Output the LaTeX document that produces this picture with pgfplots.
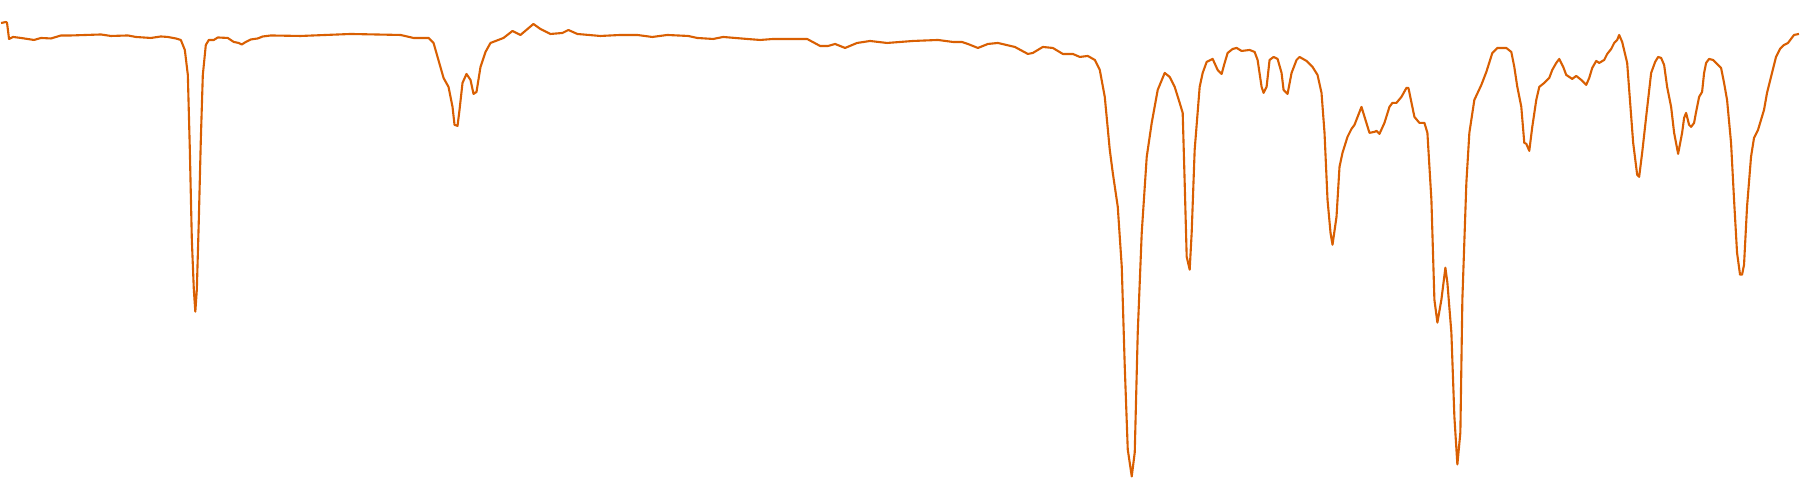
\documentclass[border=0pt]{standalone}
\usepackage{pgfplots}
\pgfplotsset{compat=1.18}
\definecolor{lineorange}{HTML}{D95F02}
\begin{document}
\begin{tikzpicture}
\begin{axis}[
  width=18cm, height=5cm, scale only axis,
  xmin=0, xmax=1800, ymin=0, ymax=500, y dir=reverse,
  hide axis, clip=false,
]
\path (rel axis cs:0,0) rectangle (rel axis cs:1,1);
\addplot[color=lineorange, line width=0.6pt, line join=round, mark=none] coordinates {
(0,23)(5,22)(6,23)(8,39)(12,37)(20,38)(33,40)(40,38)(50,38.5)(60,35.5)(70,35.5)(85,35)(100,34.5)(110,36)(127,35.5)(135,37)(150,38)(160,36.5)(167,37)(175,38.5)(180,40)(184,50)(187,75)(189,150)(191,240)(193,290)(194.5,312)(196,290)(198,220)(200,140)(202,75)(205,45)(208,40)(213,40)(217,37.5)(227,38)(233,42)(238,43)(241,44.5)(245,42)(250,39.5)(257,38.5)(262,36.5)(270,35.5)(300,36)
(350,34)(400,35)(413,38)(428,38)(433,43)(443,78)(448,87)(452,107)(454,125)(457,126)(459,110)(462,83)(466,74)(470,80)(473,94)(476,92)(480,67)(485,52)(490,43)(503,38)(512,31)(520,35)(533,24)(540,29)(550,34)(562,33)(568,30)(577,34)(600,36)
(620,35)(637,35)(652,37)(667,35)(688,36)(697,38)(713,39)(723,37)(747,39)(760,40)(773,39)(803,39)(807,39)(820,46)(828,46)(835,44)(845,48)(857,43)(870,41)(887,43)(900,42)
(913,41)(938,40)(953,42)(962,42)(968,44)(978,48)(988,44)(998,43)(1015,47)(1028,54)(1033,53)(1043,47)(1053,48)(1063,54)(1073,54)(1080,57)(1088,56)(1095,60)(1100,70)(1105,97)(1110,150)(1113,173)(1118,207)(1122,267)(1125,367)(1128,450)(1132,477)(1135,453)(1138,333)(1142,233)(1147,157)(1152,123)(1158,90)(1165,73)(1170,77)(1175,87)(1180,103)(1183,113)(1185,183)(1187,257)(1190,270)(1192,233)(1195,150)(1200,87)
(1203,73)(1207,62)(1213,59)(1218,70)(1222,74)(1225,63)(1228,53)(1233,49)(1237,48)(1242,51)(1250,50)(1255,52)(1258,60)(1262,87)(1264,93)(1267,87)(1270,60)(1274,57)(1278,59)(1282,73)(1284,90)(1288,94)(1292,73)(1297,60)(1300,57)(1307,61)(1313,67)(1318,75)(1322,93)(1325,133)(1328,200)(1331,233)(1333,245)(1337,217)(1340,167)(1343,153)(1348,137)(1352,129)(1355,125)(1362,107)(1366,120)(1370,133)(1375,132)(1377,131)(1380,134)(1385,123)(1390,107)(1393,103)(1397,103)(1402,97)(1407,88)(1409,88)(1415,117)(1420,123)(1425,123)(1428,133)(1432,200)(1435,300)(1438,323)(1442,300)(1446,268)(1448,283)(1452,333)(1455,417)(1458,465)(1461,433)(1463,300)(1467,183)(1470,133)(1475,100)(1482,85)(1487,72)(1493,53)(1498,48)(1500,48)
(1504,48)(1507,48)(1512,52)(1515,67)(1518,87)(1522,107)(1525,143)(1527,144)(1530,151)(1533,127)(1537,100)(1540,87)(1545,83)(1550,78)(1553,70)(1557,63)(1560,59)(1564,67)(1567,75)(1573,79)(1577,76)(1582,80)(1587,85)(1590,78)(1593,68)(1597,61)(1600,63)(1605,60)(1608,54)(1612,49)(1615,43)(1618,40)(1620,35)(1623,42)(1628,63)(1631,103)(1634,143)(1638,175)(1640,177)(1643,153)(1647,117)(1652,73)(1656,62)(1659,57)(1662,58)(1665,65)(1668,87)(1672,107)(1675,133)(1679,154)(1683,133)(1685,118)(1687,113)(1690,125)(1692,127)(1695,123)(1697,112)(1700,97)(1703,92)(1705,73)(1707,63)(1710,59)(1714,60)(1717,63)(1722,68)(1725,83)(1728,100)(1732,143)(1735,200)(1738,253)(1741,275)(1743,275)(1745,265)(1748,207)(1752,157)(1755,138)(1759,130)(1765,110)(1768,93)(1773,73)(1777,57)(1781,49)(1785,45)(1789,43)(1792,39)(1795,35)(1800,34)
};
\end{axis}
\end{tikzpicture}
\end{document}
